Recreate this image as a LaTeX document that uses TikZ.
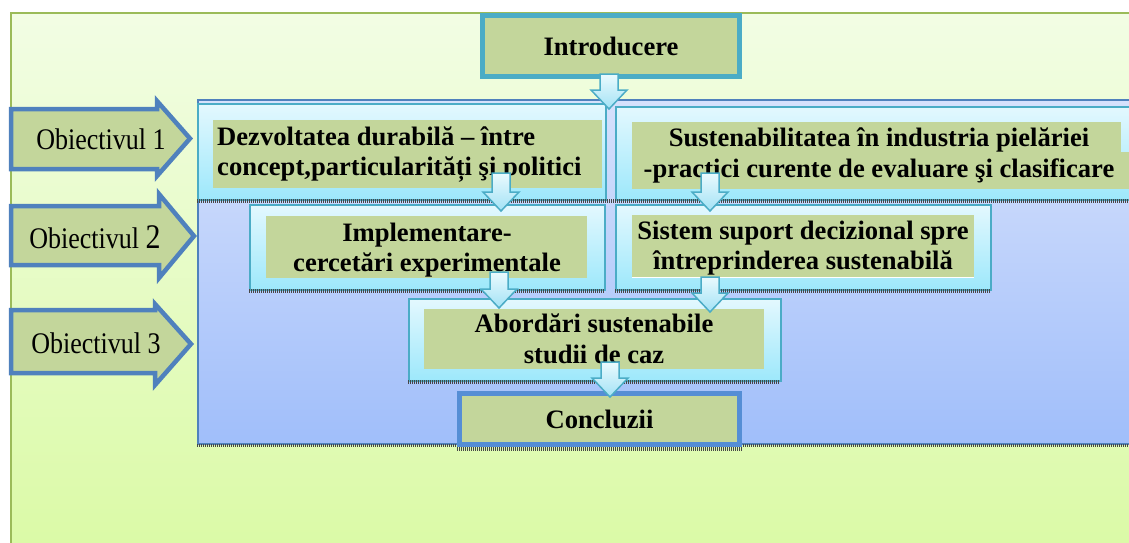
\documentclass[tikz,border=0pt]{standalone}
\usepackage{graphicx}
\usepackage{fontspec}
\setmainfont{Liberation Serif}
\usetikzlibrary{calc}
\definecolor{bgtop}{HTML}{F2FDE4}
\definecolor{bgbot}{HTML}{DBFAA7}
\definecolor{bgborder}{HTML}{9BBB59}
\definecolor{bptop}{HTML}{D6E1FC}
\definecolor{bpbot}{HTML}{A0BEFA}
\definecolor{bpborder}{HTML}{4F81BD}
\definecolor{cytop}{HTML}{E3F8FE}
\definecolor{cybot}{HTML}{9DE8FB}
\definecolor{cyborder}{HTML}{4BACC6}
\definecolor{artop}{HTML}{EAFAFE}
\definecolor{arbot}{HTML}{A2E2F5}
\definecolor{olive}{HTML}{C3D69B}
\definecolor{objborder}{HTML}{4F81BD}
\definecolor{concborder}{HTML}{558ED5}
\tikzset{
  panel/.style={draw=cyborder, line width=2pt, top color=cytop, bottom color=cybot, anchor=north west, inner sep=0pt},
  btxt/.style={font=\bfseries\fontsize{26.6}{30.5}\selectfont, align=center, inner sep=0pt},
  rtxt/.style={font=\fontsize{26}{30}\selectfont, inner sep=0pt},
  shadowline/.style={draw=black!72, line width=3.5pt, dash pattern=on 1pt off 1pt},
  blockarrow/.style={draw=cyborder, line width=1.5pt, top color=artop, bottom color=arbot, line join=miter},
  objarrow/.style={draw=objborder, line width=4.5pt, fill=olive, line join=miter},
  olivefill/.style={fill=olive},
}
\newcommand\barrow[2]{\path[blockarrow] let \p1=(#1), \p2=(#2) in
  (\x2-9pt,\y1) -- (\x2+9pt,\y1) -- (\x2+9pt,\y2+19pt) -- (\x2+18pt,\y2+19pt)
  -- (\x2,\y2) -- (\x2-18pt,\y2+19pt) -- (\x2-9pt,\y2+19pt) -- cycle;}
\begin{document}
\begin{tikzpicture}[x=1pt, y=-1pt]
\useasboundingbox (0,0) rectangle (1129,543);
% outer background
\path[top color=bgtop, bottom color=bgbot] (11,13) rectangle (1140,543);
\draw[bgborder, line width=1.5pt] (11,545) -- (11,13) -- (1140,13);
% big blue panel
\node[anchor=north west, inner sep=0pt, minimum width=943pt, minimum height=344pt,
  draw=bpborder, line width=2pt, top color=bptop, bottom color=bpbot] (bigp) at (197,99) {};
\draw[shadowline] (197,445.5) -- (1140,445.5);
% row panels
\node[panel, minimum width=408pt, minimum height=96pt] (p1l) at (197,103) {};
\node[panel, minimum width=525pt, minimum height=93pt] (p1r) at (615,106) {};
\draw[shadowline] (197,201) -- (1140,201);
\node[panel, minimum width=355pt, minimum height=85pt] (p2l) at (249,204) {};
\node[panel, minimum width=375pt, minimum height=85pt] (p2r) at (615,204) {};
\draw[shadowline] (249,291) -- (604,291);
\draw[shadowline] (615,291) -- (990,291);
\node[panel, minimum width=372pt, minimum height=82pt] (p3) at (408,298) {};
\draw[shadowline] (408,382) -- (780,382);
% olive text areas
\path[olivefill] (213,120) rectangle (602,188);
\path[olivefill] (632,122) rectangle (1121,152);
\path[olivefill] (632,152) rectangle (1140,189);
\path[olivefill] (266,216) rectangle (587,278);
\path[olivefill] (632,215) rectangle (974,277);
\draw[white, line width=1.5pt] (632,277.5) -- (974,277.5);
\path[olivefill] (424,309) rectangle (764,369);
% texts
\node[btxt, align=left, anchor=west] (t1l) at (217,154.5) {Dezvoltatea durabilă – între\\concept,particularități şi politici};
\node[btxt] (t1r) at (879,155.5) {Sustenabilitatea în industria pielăriei\\-practici curente de evaluare şi clasificare};
\node[btxt] (t2l) at (427,250) {Implementare-\\cercetări experimentale};
\node[btxt] (t2r) at (803,248) {Sistem suport decizional spre\\întreprinderea sustenabilă};
\node[btxt] (t3) at (594,339) {Abordări sustenabile\\studii de caz};
% introducere & concluzii
\node[btxt, draw=cyborder, line width=5pt, fill=olive, minimum width=257pt, minimum height=61pt] (intro) at (611,46) {Introducere};
\draw[shadowline] (457,449) -- (742,449);
\node[btxt, draw=concborder, line width=5pt, fill=olive, minimum width=280pt, minimum height=51pt] (conc) at (599.5,419) {Concluzii};
% objective arrows
\draw[objarrow] (11,109) -- (157,109) -- (157,101) -- (190,138.5) -- (157,176) -- (157,169) -- (11,169) -- cycle;
\draw[objarrow] (11,206) -- (159,206) -- (159,194) -- (194,236) -- (159,278) -- (159,265) -- (11,265) -- cycle;
\draw[objarrow] (11,310) -- (155,310) -- (155,304) -- (191,344) -- (155,385) -- (155,373) -- (11,373) -- cycle;
\node[rtxt] (o1) at (101,139) {\scalebox{1}[1.15]{Obiectivul 1}};
\node[rtxt] (o2) at (95,237) {\scalebox{1}[1.15]{Obiectivul {\fontsize{30}{30}\selectfont 2}}};
\node[rtxt] (o3) at (96,343) {\scalebox{1}[1.15]{Obiectivul 3}};
% block arrows (connectors)
\coordinate (a0s) at (609,74);  \coordinate (a0e) at (609,109);
\coordinate (a1s) at (501,173); \coordinate (a1e) at (501,211);
\coordinate (a2s) at (710,173); \coordinate (a2e) at (710,211);
\coordinate (a3s) at (499,272); \coordinate (a3e) at (499,308);
\coordinate (a4s) at (710,277); \coordinate (a4e) at (710,312);
\coordinate (a5s) at (610,362); \coordinate (a5e) at (610,397);
\barrow{a0s}{a0e}
\barrow{a1s}{a1e}
\barrow{a2s}{a2e}
\barrow{a3s}{a3e}
\barrow{a4s}{a4e}
\barrow{a5s}{a5e}
\end{tikzpicture}
\end{document}
